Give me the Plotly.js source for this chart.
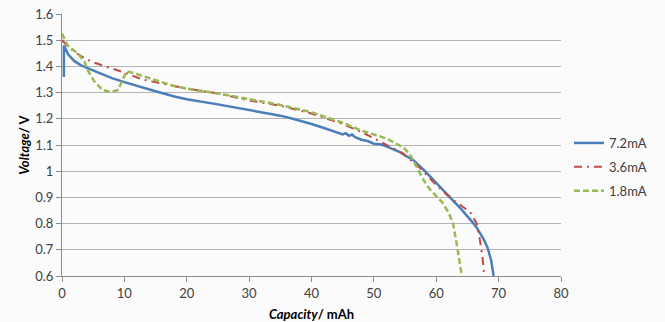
<!DOCTYPE html>
<html>
<head>
<meta charset="utf-8">
<script src="https://cdn.plot.ly/plotly-3.0.1.min.js"></script>
<style>html,body{margin:0;padding:0;background:#fbfbfb;}#chart{width:665px;height:322px;}</style>
</head>
<body>
<div id="chart"></div>
<script>
// 7.2 mA discharge
const cap72 = [0.3, 0.3, 0.6, 1, 2, 3, 3.9, 5, 6, 8, 10, 12, 15, 18, 20, 25, 30, 33, 35, 37, 39, 40, 42, 44, 45, 45.5, 46, 46.5, 47, 48, 49, 50, 51, 52, 53, 54, 55, 56.3, 58, 60, 62, 64, 66, 66.6, 67.5, 68.2, 68.8, 69.2];
const v72   = [1.36, 1.48, 1.465, 1.445, 1.42, 1.405, 1.395, 1.385, 1.375, 1.355, 1.34, 1.325, 1.305, 1.285, 1.275, 1.255, 1.234, 1.222, 1.212, 1.2, 1.188, 1.18, 1.165, 1.15, 1.14, 1.145, 1.135, 1.14, 1.13, 1.12, 1.115, 1.105, 1.103, 1.095, 1.085, 1.075, 1.06, 1.043, 1.005, 0.955, 0.905, 0.855, 0.80, 0.78, 0.745, 0.71, 0.66, 0.60];
// 3.6 mA discharge
const cap36 = [0, 1, 2, 2.8, 4.7, 7.9, 10.3, 12.9, 15, 20, 25, 30, 35, 40, 45, 48, 51, 53, 54.7, 56, 57.4, 60, 62.7, 65.4, 66.5, 67, 67.4, 67.7];
const v36   = [1.50, 1.475, 1.455, 1.443, 1.418, 1.393, 1.374, 1.35, 1.34, 1.315, 1.297, 1.27, 1.25, 1.22, 1.18, 1.15, 1.113, 1.09, 1.068, 1.04, 1.012, 0.947, 0.89, 0.845, 0.80, 0.737, 0.674, 0.60];
// 1.8 mA discharge
const cap18 = [0, 0.9, 2.5, 3.6, 4.1, 5.2, 6.5, 7.8, 9, 9.8, 10.3, 11, 12, 14, 16, 18, 20, 25, 30, 35, 40, 43.5, 45, 48, 50, 52, 54, 55, 56, 57, 58, 59, 60, 61, 62, 62.7, 63.3, 63.8, 64.1];
const v18   = [1.525, 1.48, 1.45, 1.418, 1.386, 1.342, 1.31, 1.302, 1.31, 1.355, 1.38, 1.378, 1.37, 1.355, 1.34, 1.325, 1.315, 1.297, 1.275, 1.253, 1.225, 1.198, 1.185, 1.155, 1.14, 1.125, 1.10, 1.085, 1.055, 1.01, 0.965, 0.93, 0.905, 0.88, 0.84, 0.80, 0.72, 0.65, 0.60];

const seriesNames = ['7.2mA', '3.6mA', '1.8mA'];
const xTicks = [0, 10, 20, 30, 40, 50, 60, 70, 80];
const yTicks = [0.6, 0.7, 0.8, 0.9, 1, 1.1, 1.2, 1.3, 1.4, 1.5, 1.6];

const traces = [
  {x: cap72, y: v72, name: seriesNames[0], mode: 'lines', line: {color: '#4a7ebb', width: 2.5}, legendgroup: 'a'},
  {x: cap36, y: v36, name: seriesNames[1], mode: 'lines', line: {color: '#be4b48', width: 2, dash: '8px,5px,2px,5px'}, legendgroup: 'b'},
  {x: cap18, y: v18, name: seriesNames[2], mode: 'lines', line: {color: '#98b954', width: 2.5, dash: '6px,3px'}, legendgroup: 'c'}
];

const fontFam = 'Lato, "Open Sans", sans-serif';
const layout = {
  width: 665, height: 322,
  paper_bgcolor: '#fbfbfb', plot_bgcolor: '#fbfbfb',
  margin: {l: 62, r: 104, t: 14, b: 46},
  font: {family: fontFam, size: 13, color: '#404040'},
  showlegend: true,
  legend: {x: 1.016, y: 0.416, yanchor: 'middle', xanchor: 'left', font: {size: 13, color: '#404040'}, tracegroupgap: 4, bgcolor: 'rgba(0,0,0,0)'},
  xaxis: {
    range: [0, 80], tickvals: xTicks, ticktext: xTicks.map(String),
    showgrid: false, zeroline: false, showline: true, linecolor: '#8c8c8c', linewidth: 1,
    ticks: 'outside', ticklen: 5, tickcolor: '#8c8c8c',
    title: {text: '<b><i>Capacity</i>/ mAh</b>', font: {size: 13, color: '#000'}, standoff: 10}
  },
  yaxis: {
    range: [0.6, 1.6], tickvals: yTicks, ticktext: yTicks.map(v => String(v)),
    showgrid: true, gridcolor: '#b4b4b4', gridwidth: 1, zeroline: false,
    showline: true, linecolor: '#8c8c8c', linewidth: 1,
    ticks: 'outside', ticklen: 5, tickcolor: '#8c8c8c',
    title: {text: '<b><i>Voltage</i>/ V</b>', font: {size: 13, color: '#000'}, standoff: 2}
  }
};

Plotly.newPlot('chart', traces, layout, {staticPlot: true, displayModeBar: false});
</script>
</body>
</html>
